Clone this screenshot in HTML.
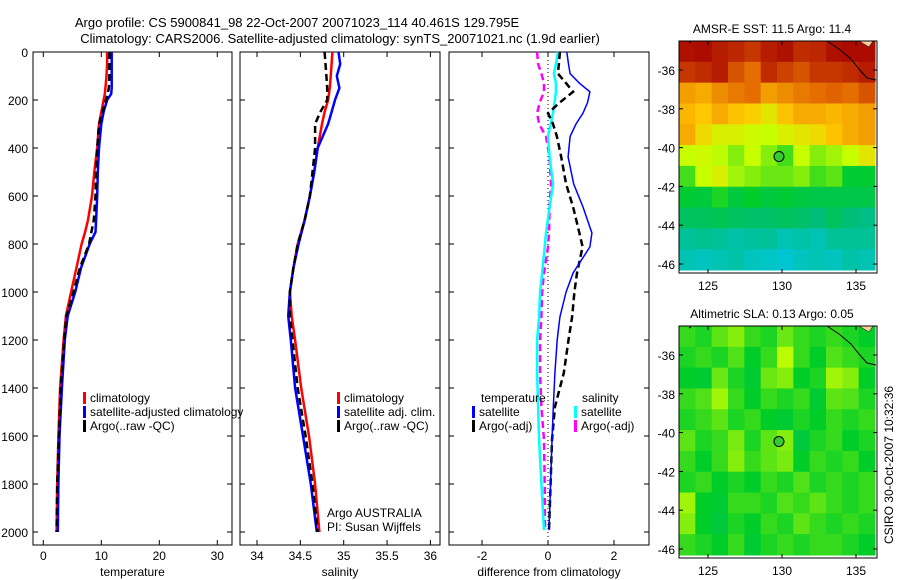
<!DOCTYPE html>
<html><head><meta charset="utf-8"><style>
body{margin:0;background:#fff;}
svg{display:block;font-family:"Liberation Sans",sans-serif;}
text{font-size:12px;fill:#000;}
</style></head><body>
<svg id="c" width="900" height="580" viewBox="0 0 900 580"></svg>
<script>
// ---- data ----
const tDepth=[0,50,100,150,175,200,250,300,400,500,600,700,750,800,900,1000,1100,1200,1400,1600,1800,2000];
const tClim=[11.0,11.0,10.9,10.7,10.6,10.4,10.0,9.6,9.3,8.8,8.4,7.7,7.2,6.6,5.7,4.8,3.9,3.5,2.9,2.6,2.4,2.3];
const tSat=[11.8,11.8,11.8,11.8,11.7,11.0,10.4,10.0,9.6,9.4,9.3,9.1,9.0,8.0,6.5,5.5,4.2,3.7,3.2,2.8,2.6,2.5];
const tArgo=[11.4,11.4,11.4,11.3,11.1,10.8,10.2,9.6,9.3,9.1,9.0,8.7,8.3,7.9,6.3,5.2,4.0,3.6,3.0,2.7,2.4,2.3];
const sDepth=[0,50,100,150,200,250,300,400,500,600,700,800,900,1000,1100,1200,1400,1600,1800,2000];
const sClim=[34.87,34.86,34.85,34.84,34.82,34.78,34.75,34.70,34.66,34.61,34.55,34.47,34.42,34.38,34.40,34.44,34.51,34.60,34.67,34.72];
const sSat=[34.94,34.96,34.92,34.95,34.90,34.86,34.82,34.70,34.66,34.61,34.55,34.48,34.42,34.38,34.36,34.39,34.44,34.53,34.62,34.69];
const sArgo=[34.78,34.79,34.80,34.81,34.81,34.73,34.67,34.67,34.64,34.61,34.55,34.47,34.42,34.38,34.38,34.41,34.47,34.56,34.64,34.70];
const dDepth=[0,50,90,130,166,210,255,300,352,437,550,646,754,812,921,1000,1104,1200,1337,1479,1617,1800,1992];
const dTSat=[0.57,0.62,0.67,0.95,1.27,1.2,1.06,0.85,0.67,0.61,0.78,1.06,1.33,1.27,0.76,0.55,0.36,0.28,0.21,0.16,0.12,0.08,0.03];
const dTArgo=[0.36,0.33,0.30,0.55,0.76,0.36,0.0,0.15,0.27,0.40,0.55,0.76,0.95,1.05,0.88,0.80,0.73,0.62,0.48,0.21,0.12,0.08,0.03];
const dSSat=[0.30,0.24,0.18,0.24,0.24,0.20,0.15,0.08,0.0,0.05,0.15,0.05,-0.06,-0.1,-0.18,-0.24,-0.27,-0.33,-0.33,-0.3,-0.27,-0.2,-0.12];
const dSArgo=[-0.33,-0.30,-0.2,-0.12,-0.12,-0.25,-0.33,-0.27,-0.06,0.05,0.09,0.05,0.03,0.0,-0.12,-0.18,-0.2,-0.24,-0.24,-0.2,-0.12,-0.1,-0.09];
const depthTicks=[0,200,400,600,800,1000,1200,1400,1600,1800,2000];
const tTicks=[0,10,20,30];
const sTicks=[34,34.5,35,35.5,36];
const dTicks=[-2,0,2];
const latTicks=[-36,-38,-40,-42,-44,-46];
const lonTicks=[125,130,135];
const sstGrid=[
[.97,.98,.95,.93,.9,.95,.97,.92,.93,.97,.98,.98],
[.9,.92,.95,.85,.8,.92,.88,.85,.9,.9,.92,.95],
[.72,.7,.75,.78,.8,.72,.75,.78,.8,.82,.8,.85],
[.68,.65,.7,.66,.64,.6,.66,.7,.7,.68,.7,.72],
[.7,.62,.58,.58,.56,.55,.58,.6,.62,.66,.7,.72],
[.55,.56,.54,.5,.55,.5,.45,.55,.5,.52,.55,.6],
[.45,.55,.58,.52,.5,.48,.48,.5,.45,.47,.38,.38],
[.38,.36,.42,.36,.4,.36,.38,.35,.34,.34,.34,.34],
[.3,.3,.32,.3,.28,.28,.3,.28,.25,.3,.25,.22],
[.18,.2,.18,.15,.17,.18,.12,.15,.12,.18,.18,.18],
[.12,.1,.12,.15,.1,.08,.05,.1,.12,.1,.15,.12]];
const slaGrid=[
[.44,.42,.47,.5,.44,.42,.48,.44,.42,.44,.42,.4],
[.42,.44,.42,.46,.4,.44,.54,.44,.4,.46,.44,.42],
[.4,.38,.48,.42,.38,.48,.5,.4,.42,.52,.5,.4],
[.44,.46,.52,.44,.4,.44,.42,.44,.38,.47,.46,.42],
[.42,.44,.47,.42,.44,.4,.38,.42,.4,.44,.42,.44],
[.47,.42,.44,.49,.42,.47,.5,.36,.42,.44,.4,.42],
[.44,.4,.44,.5,.44,.47,.49,.4,.44,.42,.44,.4],
[.42,.44,.4,.42,.4,.44,.42,.46,.42,.44,.42,.44],
[.52,.4,.38,.44,.44,.42,.46,.44,.47,.44,.42,.44],
[.5,.4,.36,.42,.4,.44,.42,.47,.44,.42,.44,.42],
[.44,.42,.4,.44,.38,.42,.44,.42,.44,.44,.42,.4]];

const NS='http://www.w3.org/2000/svg';
const svg=document.getElementById('c');
function mk(tag,attrs,parent){const e=document.createElementNS(NS,tag);for(const k in attrs)e.setAttribute(k,attrs[k]);(parent||svg).appendChild(e);return e;}
function txt(x,y,s,anchor,parent,size){const e=mk('text',{x:x,y:y,'text-anchor':anchor||'start'},parent);if(size)e.style.fontSize=size+'px';e.textContent=s;return e;}
const Y=d=>52+d*0.24;
const panels=[
 {x0:33,x1:232,fx:v=>43.3+5.8*v,ticks:tTicks,label:'temperature',name:'temperature-panel'},
 {x0:240,x1:440,fx:v=>257+86.7*(v-34),ticks:sTicks,label:'salinity',name:'salinity-panel'},
 {x0:449,x1:649,fx:v=>548+33*v,ticks:dTicks,label:'difference from climatology',name:'difference-panel'}];
panels.forEach((p,i)=>{
 const g=mk('g',{});
 
 
 mk('rect',{x:p.x0,y:52,width:p.x1-p.x0,height:493,fill:'none',stroke:'#000','stroke-width':1},g);
 p.ticks.forEach(t=>{const x=p.fx(t);mk('line',{x1:x,x2:x,y1:545,y2:540,stroke:'#000'},g);mk('line',{x1:x,x2:x,y1:52,y2:57,stroke:'#000'},g);
   const lbl=txt(x,560,String(t),'middle',g);});
 depthTicks.forEach(d=>{mk('line',{x1:p.x0,x2:p.x0+5,y1:Y(d),y2:Y(d),stroke:'#000'},g);mk('line',{x1:p.x1,x2:p.x1-5,y1:Y(d),y2:Y(d),stroke:'#000'},g);});
 const xl=txt((p.x0+p.x1)/2,576,p.label,'middle',g);
 
});
depthTicks.forEach(d=>{const l=txt(28,Y(d)+5,String(d),'end');});
function line(depths,vals,fx,color,w,dash,name){
 const pts=depths.map((d,i)=>fx(vals[i]).toFixed(1)+','+Y(d).toFixed(1)).join(' ');
 const e=mk('polyline',{points:pts,fill:'none',stroke:color,'stroke-width':w});
 if(dash)e.setAttribute('stroke-dasharray',dash);
 
 
}
const P=panels;
line(tDepth,tClim,P[0].fx,'#f00',2.5,null,'temp-climatology-line');
line(tDepth,tSat,P[0].fx,'#00f',2.5,null,'temp-satellite-line');
line(tDepth,tArgo,P[0].fx,'#000',2.5,'7,4','temp-argo-line');
line(sDepth,sClim,P[1].fx,'#f00',2.5,null,'sal-climatology-line');
line(sDepth,sSat,P[1].fx,'#00f',2.5,null,'sal-satellite-line');
line(sDepth,sArgo,P[1].fx,'#000',2.5,'7,4','sal-argo-line');
mk('line',{x1:P[2].fx(0),x2:P[2].fx(0),y1:52,y2:545,stroke:'#000','stroke-dasharray':'1,3'});
line(dDepth,dSArgo,P[2].fx,'#f0f',2.5,'7,4','diff-sal-argo-line');
line(dDepth,dSSat,P[2].fx,'#0ff',2.5,null,'diff-sal-satellite-line');
line(dDepth,dTArgo,P[2].fx,'#000',2.5,'7,4','diff-temp-argo-line');
line(dDepth,dTSat,P[2].fx,'#00f',1.5,null,'diff-temp-satellite-line');
function leg(x,y,color,s,name){const g=mk('g',{});
 mk('rect',{x:x,y:y-10,width:3,height:12,fill:color},g);txt(x+7,y,s,'start',g);}
leg(83,402,'#f00','climatology','legend-climatology');
leg(83,416,'#00f','satellite-adjusted climatology','legend-satellite-adjusted');
leg(83,430,'#000','Argo(..raw -QC)','legend-argo');
leg(337,402,'#f00','climatology','legend-climatology-2');
leg(337,416,'#00f','satellite adj. clim.','legend-satellite-adj-2');
leg(337,430,'#000','Argo(..raw -QC)','legend-argo-2');
txt(481,402,'temperature');txt(582,402,'salinity');
leg(472,416,'#00f','satellite','legend-diff-temp-sat');
leg(472,430,'#000','Argo(-adj)','legend-diff-temp-argo');
leg(574,416,'#0ff','satellite','legend-diff-sal-sat');
leg(574,430,'#f0f','Argo(-adj)','legend-diff-sal-argo');
txt(327,517,'Argo AUSTRALIA');txt(327,531,'PI: Susan Wijffels');
const t1=txt(297,27,'Argo profile: CS 5900841_98 22-Oct-2007 20071023_114 40.461S 129.795E','middle',null,13);

const t2=txt(340,43,'Climatology: CARS2006. Satellite-adjusted climatology: synTS_20071021.nc (1.9d earlier)','middle',null,13);

// ---- maps ----
const stops=[[0,[0,200,235]],[.25,[0,190,120]],[.4,[0,205,40]],[.55,[200,255,0]],[.65,[255,200,0]],[.8,[230,110,0]],[1,[165,0,0]]];
function cmap(v){for(let i=1;i<stops.length;i++){if(v<=stops[i][0]){const a=stops[i-1],b=stops[i],f=(v-a[0])/(b[0]-a[0]);return 'rgb('+a[1].map((c,k)=>Math.round(c+(b[1][k]-c)*f)).join(',')+')';}}return 'rgb(165,0,0)';}
function map(top,grid,title,name){
 const g=mk('g',{});
 const x0=679,x1=877,y1=top+232,fx=lon=>782+(lon-130)*14.8,fy=lat=>top+29-(lat+36)*19.4;
 const rows=grid.length,cols=grid[0].length,cw=(875-x0)/cols,ch=(y1-3-top)/rows;
 grid.forEach((r,i)=>r.forEach((v,j)=>mk('rect',{x:x0+j*cw,y:top+i*ch,width:cw+0.5,height:ch+0.5,fill:cmap(v)},g)));
 mk('path',{d:`M${x0+12} ${top+1} L${x0+10} ${top+2} M${x0+148} ${top} L${x0+160} ${top+8} L${x0+172} ${top+18} L${x0+180} ${top+28} L${x0+188} ${top+37} L${x1-1} ${top+39}`,stroke:'#000',fill:'none','stroke-width':1},g);
 mk('path',{d:`M${x0+180} ${top} L${x0+190} ${top+6} L${x0+194} ${top} Z`,fill:'#fc9',stroke:'#000','stroke-width':0.5},g);
 mk('rect',{x:x0,y:top,width:x1-x0,height:232,fill:'none',stroke:'#000'},g);
 latTicks.forEach(l=>{const y=fy(l);mk('line',{x1:x0,x2:x0+4,y1:y,y2:y,stroke:'#000'},g);mk('line',{x1:x1,x2:x1-4,y1:y,y2:y,stroke:'#000'},g);txt(x0-4,y+5,String(l),'end',g);});
 lonTicks.forEach(l=>{const x=fx(l);mk('line',{x1:x,x2:x,y1:top,y2:top+4,stroke:'#000'},g);mk('line',{x1:x,x2:x,y1:y1,y2:y1-4,stroke:'#000'},g);txt(x,y1+17,String(l),'middle',g);});
 const c=mk('circle',{cx:fx(129.795),cy:fy(-40.461),r:5,fill:'#3c3',stroke:'#000'},g);
 
 txt(772,top-8,title,'middle',g);
}
map(41,sstGrid,'AMSR-E SST: 11.5 Argo: 11.4','sst-map');
map(326,slaGrid,'Altimetric SLA: 0.13 Argo: 0.05','sla-map');
const st=txt(0,0,'CSIRO 30-Oct-2007 10:32:36','middle');
st.setAttribute('transform','translate(893,465) rotate(-90)');

</script>
</body></html>
